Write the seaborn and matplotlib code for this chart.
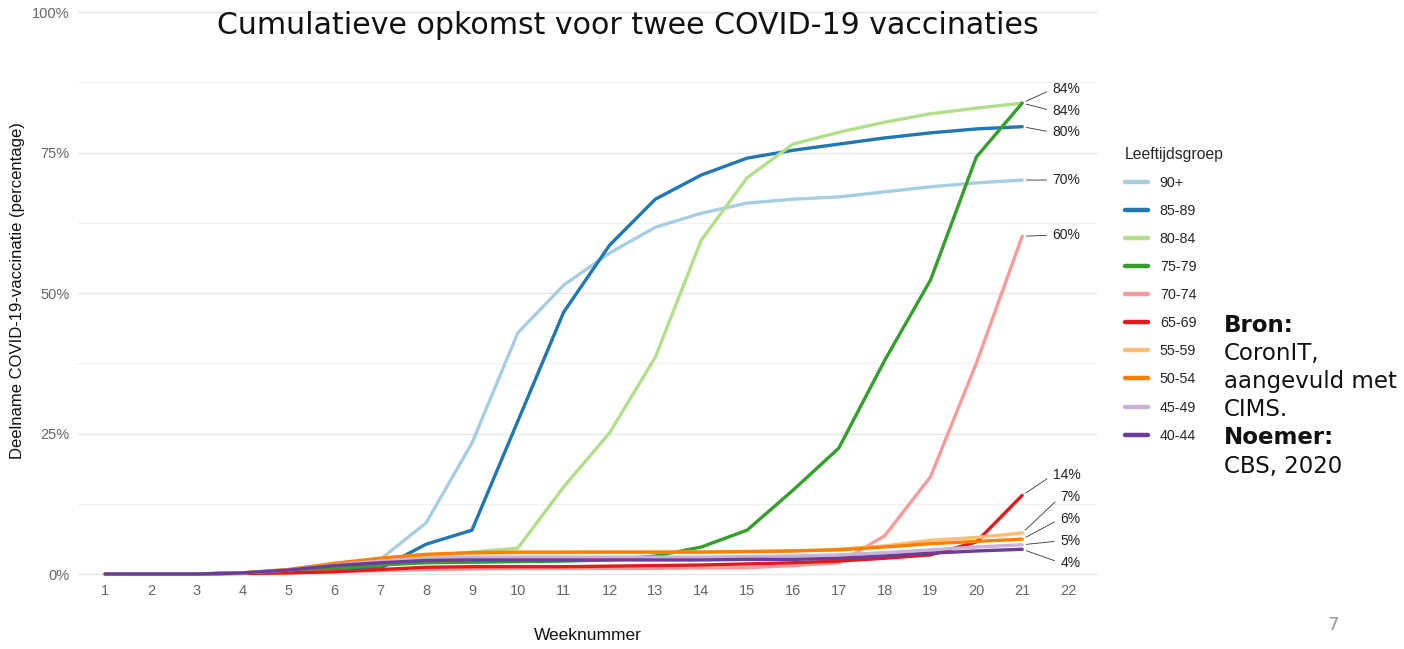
import matplotlib
matplotlib.use("Agg")
import matplotlib.pyplot as plt
import numpy as np
import pandas as pd
import seaborn as sns

# week numbers and cumulative uptake (%) per age group
WEEKS = list(range(1, 22))
GROUPS = ["90+", "85-89", "80-84", "75-79", "70-74",
          "65-69", "55-59", "50-54", "45-49", "40-44"]

v_90 = [0, 0, 0, 0.2, 0.7, 1.5, 2.6, 9.1, 23.3, 42.9, 51.4, 57.1, 61.7, 64.2,
        66.0, 66.7, 67.1, 68.0, 68.9, 69.6, 70.1]
v_85 = [0, 0, 0, 0.2, 0.5, 0.8, 1.0, 5.3, 7.8, 27.2, 46.6, 58.5, 66.7, 71.0,
        74.0, 75.4, 76.5, 77.6, 78.5, 79.2, 79.6]
v_80 = [0, 0, 0, 0.2, 0.6, 1.4, 2.2, 3.2, 3.9, 4.6, 15.5, 25.1, 38.6, 59.4,
        70.5, 76.5, 78.6, 80.4, 81.9, 82.9, 83.8]
v_75 = [0, 0, 0, 0.2, 0.5, 1.0, 1.6, 2.0, 2.1, 2.2, 2.3, 2.5, 3.2, 4.8,
        7.8, 14.9, 22.4, 38.0, 52.3, 74.2, 83.8]
v_70 = [0, 0, 0, 0.1, 0.2, 0.4, 0.6, 0.8, 0.9, 1.0, 1.0, 1.0, 1.0, 1.1,
        1.1, 1.5, 2.0, 6.8, 17.3, 37.5, 60.1]
v_65 = [0, 0, 0, 0.1, 0.2, 0.4, 0.8, 1.2, 1.3, 1.3, 1.3, 1.4, 1.5, 1.6,
        1.8, 2.0, 2.3, 2.8, 3.4, 5.7, 14.0]
v_55 = [0, 0, 0, 0.2, 0.8, 1.8, 2.8, 3.4, 3.7, 3.8, 3.8, 3.9, 3.9, 3.9,
        4.0, 4.1, 4.4, 5.0, 6.0, 6.5, 7.3]
v_50 = [0, 0, 0, 0.2, 0.8, 1.9, 2.8, 3.5, 3.8, 3.9, 3.9, 3.9, 3.9, 3.9,
        4.0, 4.1, 4.3, 4.8, 5.4, 5.8, 6.2]
v_45 = [0, 0, 0, 0.2, 0.7, 1.6, 2.3, 2.8, 3.0, 3.0, 3.0, 3.0, 3.0, 3.0,
        3.1, 3.2, 3.4, 3.8, 4.3, 4.8, 5.2]
v_40 = [0, 0, 0, 0.2, 0.7, 1.5, 2.0, 2.4, 2.5, 2.5, 2.5, 2.5, 2.5, 2.5,
        2.6, 2.6, 2.8, 3.2, 3.7, 4.1, 4.4]

# end labels (text, group) and where the repelled label sits on the y axis
END_LABELS = ["84%", "84%", "80%", "70%", "60%", "14%", "7%", "6%", "5%", "4%"]
END_GROUPS = ["80-84", "75-79", "85-89", "90+", "70-74",
              "65-69", "55-59", "50-54", "45-49", "40-44"]
LABEL_Y = [86.3, 82.4, 78.6, 70.1, 60.3, 17.6, 13.7, 9.8, 5.9, 2.0]

Y_TICKS = [0, 25, 50, 75, 100]
Y_TICK_LABELS = ["0%", "25%", "50%", "75%", "100%"]

SOURCE_LINES = [("Bron:", "bold"), ("CoronIT,", "normal"),
                ("aangevuld met", "normal"), ("CIMS.", "normal"),
                ("Noemer:", "bold"), ("CBS, 2020", "normal")]

series = [v_90, v_85, v_80, v_75, v_70, v_65, v_55, v_50, v_45, v_40]
df = pd.DataFrame({
    "Weeknummer": WEEKS * len(GROUPS),
    "Leeftijdsgroep": np.repeat(GROUPS, len(WEEKS)),
    "Deelname": np.concatenate(series),
})
last = df[df["Weeknummer"] == WEEKS[-1]].set_index("Leeftijdsgroep")["Deelname"]

sns.set_style("white")
plt.rcParams["font.family"] = ["Liberation Sans", "DejaVu Sans"]

fig = plt.figure(figsize=(14.04, 6.49), dpi=100)
ax = fig.add_axes([0.0556, 0.1069, 0.7257, 0.8832])

palette = sns.color_palette("Paired", 10)
sns.lineplot(data=df, x="Weeknummer", y="Deelname", hue="Leeftijdsgroep",
             hue_order=GROUPS, palette=palette, linewidth=2.4, ax=ax,
             clip_on=False)

ax.set_xlim(0.41, 22.63)
ax.set_ylim(-1, 101)
ax.set_xticks(range(1, 23))
ax.set_yticks(Y_TICKS)
ax.set_yticklabels(Y_TICK_LABELS)
ax.set_yticks(np.arange(12.5, 100, 25), minor=True)
ax.grid(axis="y", which="major", color="#e6e6e6", linewidth=1.0)
ax.grid(axis="y", which="minor", color="#f0f0f0", linewidth=0.8)
ax.grid(axis="x", visible=False)
ax.set_axisbelow(True)
for s in ax.spines.values():
    s.set_visible(False)
ax.tick_params(axis="both", which="both", length=0, labelsize=10.5,
               labelcolor="#666666")
ax.tick_params(axis="x", pad=3)
ax.tick_params(axis="y", pad=6)

ax.set_xlabel("Weeknummer", fontsize=12.5, color="#111111")
ax.xaxis.label.set_va("center")
ax.xaxis.set_label_coords(0.5005, -0.097)
ax.set_ylabel("Deelname COVID-19-vaccinatie (percentage)", fontsize=12,
              color="#111111")
ax.yaxis.label.set_va("center")
ax.yaxis.set_label_coords(-0.059, 0.505)

# end-of-line labels with leader lines
for txt, grp, ly in zip(END_LABELS, END_GROUPS, LABEL_Y):
    ax.annotate(txt, xy=(WEEKS[-1], last[grp]), xytext=(22.27, ly),
                ha="right", va="center", fontsize=10, color="#222222",
                arrowprops=dict(arrowstyle="-", color="#333333", lw=0.6,
                                shrinkA=2, shrinkB=3, relpos=(0, 0.5)))

sns.move_legend(ax, loc="upper left", bbox_to_anchor=(0.796, 0.784),
                bbox_transform=fig.transFigure, frameon=False,
                title="Leeftijdsgroep", fontsize=10.3, title_fontsize=11.3,
                labelspacing=0.98, handlelength=1.6, handletextpad=0.85,
                borderpad=0, alignment="left")
leg = ax.get_legend()
for h in leg.legend_handles:
    h.set_linewidth(3.2)

fig.text(0.447, 1 - 25 / 649, "Cumulatieve opkomst voor twee COVID-19 vaccinaties",
         ha="center", va="center", fontsize=21.6, family="DejaVu Sans",
         color="#111111")

for i, (line, weight) in enumerate(SOURCE_LINES):
    fig.text(1224 / 1404, 1 - (325 + i * 28.2) / 649, line, ha="left",
             va="center", fontsize=16.5, family="DejaVu Sans",
             fontweight=weight, color="#111111")

fig.text(1333 / 1404, 1 - 625 / 649, "7", ha="center", va="center",
         fontsize=13, family="DejaVu Sans", color="#999999")

fig.savefig("out.png", dpi=100)
